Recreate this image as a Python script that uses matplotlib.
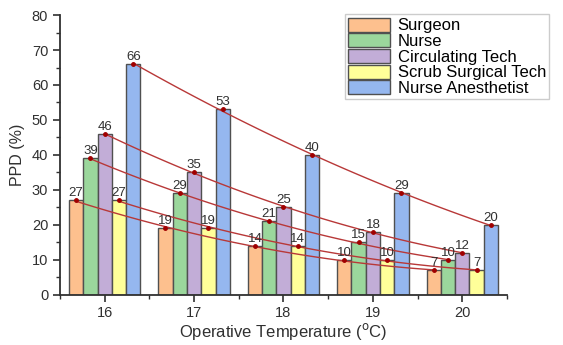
import numpy as np
import matplotlib
matplotlib.use("Agg")
import matplotlib.pyplot as plt
from matplotlib.ticker import MultipleLocator

plt.rcParams["font.family"] = ["Liberation Sans", "DejaVu Sans"]

temps = [16, 17, 18, 19, 20]
groups = ["Surgeon", "Nurse", "Circulating Tech", "Scrub Surgical Tech", "Nurse Anesthetist"]
surgeon = [27, 19, 14, 10, 7]
nurse = [39, 29, 21, 15, 10]
circulating = [46, 35, 25, 18, 12]
scrub = [27, 19, 14, 10, 7]
anesthetist = [66, 53, 40, 29, 20]
series = [surgeon, nurse, circulating, scrub, anesthetist]
colors = ["#FDC08E", "#9BD79C", "#C2ADD7", "#FFFF99", "#95B7EF"]

fig = plt.figure(figsize=(5.63, 3.45), dpi=100)
ax = fig.add_axes([0.1066, 0.145, 0.7939, 0.8115])

x = np.array(temps, dtype=float)
width = 0.16
offsets = [-0.32, -0.16, 0.0, 0.16, 0.32]

handles = []
for vals, col, off, name in zip(series, colors, offsets, groups):
    xs = x + off
    b = ax.bar(xs, vals, width=width, color=col, edgecolor="#505050",
               linewidth=1.0, zorder=2, label=name)
    handles.append(b)
    # fitted trend curve through the bar tops
    coef = np.polyfit(xs, vals, 2)
    xf = np.linspace(xs[0], xs[-1], 100)
    ax.plot(xf, np.polyval(coef, xf), color="#B83838", linewidth=1.0, zorder=3)
    ax.plot(xs, vals, "o", color="#A00000", markersize=2.5, zorder=4)
    for xi, v in zip(xs, vals):
        ax.text(xi, v + 0.3, str(v), ha="center", va="bottom", fontsize=9.5,
                color="#303030", zorder=5)

ax.set_xlim(15.5, 20.5)
ax.set_ylim(0, 80)
ax.set_xticks(temps)
ax.xaxis.set_minor_locator(MultipleLocator(0.5))
ax.yaxis.set_major_locator(MultipleLocator(10))
ax.yaxis.set_minor_locator(MultipleLocator(5))
ax.tick_params(axis="both", which="major", direction="out", length=5, width=1.2,
               labelsize=10.5, colors="#303030")
ax.tick_params(axis="both", which="minor", direction="out", length=3, width=1.0,
               colors="#303030")
ax.tick_params(axis="x", pad=3)
for s in ["top", "right"]:
    ax.spines[s].set_visible(False)
for s in ["left", "bottom"]:
    ax.spines[s].set_linewidth(1.3)
    ax.spines[s].set_color("#303030")

ax.set_ylabel("PPD (%)", fontsize=11.5, color="#303030", labelpad=5)
ax.set_xlabel("Operative Temperature ($^{\\mathrm{o}}$C)", fontsize=12,
              color="#303030", labelpad=1)

fig.legend(handles=handles, loc="upper left", bbox_to_anchor=(0.613, 0.958),
           fontsize=12, frameon=True, fancybox=False, edgecolor="#C0C0C0",
           handlelength=2.5, handleheight=0.9, handletextpad=0.45,
           labelspacing=0.0, borderpad=0.2, borderaxespad=0)

fig.savefig("out.png", dpi=100)
